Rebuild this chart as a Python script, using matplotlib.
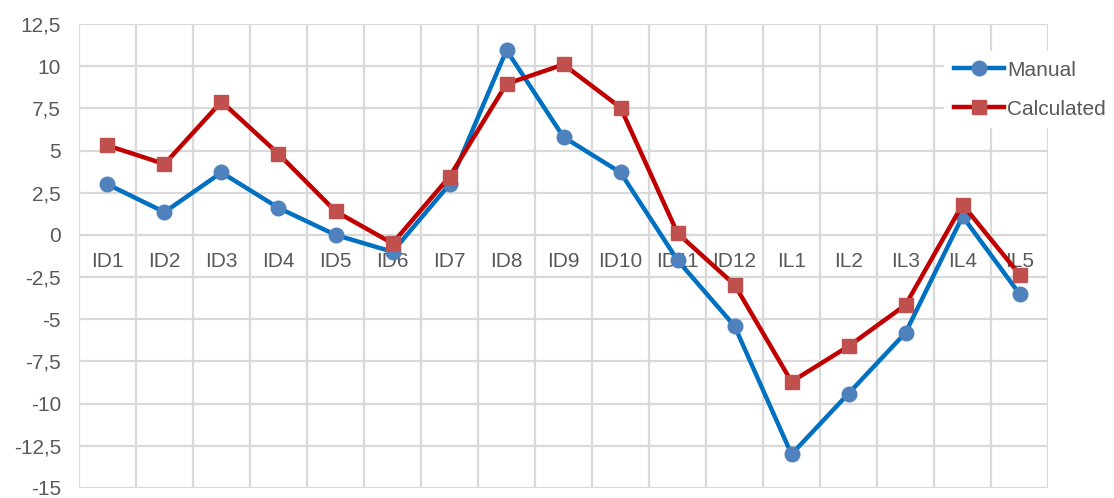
import numpy as np
import matplotlib.pyplot as plt
from matplotlib.ticker import FixedLocator, FuncFormatter
import matplotlib.transforms as mtransforms

plt.rcParams['font.family'] = ['Liberation Sans', 'DejaVu Sans']

categories = ['ID1', 'ID2', 'ID3', 'ID4', 'ID5', 'ID6', 'ID7', 'ID8', 'ID9',
              'ID10', 'ID11', 'ID12', 'IL1', 'IL2', 'IL3', 'IL4', 'IL5']
manual = [3.0, 1.35, 3.7, 1.6, 0.0, -1.0, 3.0, 10.95, 5.8,
          3.7, -1.5, -5.4, -13.0, -9.4, -5.8, 1.1, -3.5]
calculated = [5.3, 4.2, 7.9, 4.8, 1.4, -0.5, 3.45, 8.95, 10.1,
              7.55, 0.1, -2.95, -8.7, -6.6, -4.15, 1.8, -2.35]
y_ticks = np.arange(-15, 12.6, 2.5)

text_col = '#595959'
grid_col = '#D9D9D9'
fs = 15

fig = plt.figure(figsize=(11.14, 4.98), dpi=100)
ax = fig.add_axes([0.0709, 0.0201, 0.8699, 0.9317])

x = np.arange(len(categories))
ax.plot(x, manual, color='#0070C0', lw=3.2, marker='o', ms=10.5,
        mfc='#4F81BD', mec='#4F81BD', label='Manual', zorder=3)
ax.plot(x, calculated, color='#C00000', lw=3.2, marker='s', ms=9.5,
        mfc='#C0504D', mec='#C0504D', label='Calculated', zorder=3)

ax.set_xlim(-0.5, len(categories) - 0.5)
ax.set_ylim(-15, 12.5)

# horizontal grid on major y ticks, vertical grid on category boundaries
ax.set_yticks(y_ticks)
ax.yaxis.set_major_formatter(FuncFormatter(
    lambda v, p: f'{v:g}'.replace('.', ',')))
ax.xaxis.set_minor_locator(FixedLocator(np.arange(-0.5, len(categories), 1)))
ax.set_xticks(x)
ax.set_xticklabels([])
ax.grid(axis='y', which='major', color=grid_col, lw=1.6, zorder=0)
ax.grid(axis='x', which='minor', color=grid_col, lw=1.6, zorder=0)
ax.tick_params(axis='both', which='both', length=0)
ax.tick_params(axis='y', labelsize=fs, labelcolor=text_col, pad=13)
for s in ax.spines.values():
    s.set_visible(False)
ax.set_axisbelow(True)

# category labels hang just below the zero line
trans = mtransforms.blended_transform_factory(ax.transData, ax.transData)
offset = mtransforms.offset_copy(trans, fig=fig, x=0, y=-27, units='dots')
for xi, lab in zip(x, categories):
    ax.text(xi, 0, lab, transform=offset, ha='center', va='center',
            fontsize=fs, color=text_col, zorder=2)

leg = ax.legend(loc='upper left', bbox_to_anchor=(0.893, 0.941),
                frameon=True, fontsize=fs, handlelength=2.4,
                handletextpad=0.15, labelspacing=0.95, borderpad=0.45,
                borderaxespad=0)
leg.get_frame().set_facecolor('white')
leg.get_frame().set_edgecolor('none')
leg.get_frame().set_alpha(1)
for t in leg.get_texts():
    t.set_color(text_col)

fig.savefig('out.png', dpi=100, facecolor='white')
